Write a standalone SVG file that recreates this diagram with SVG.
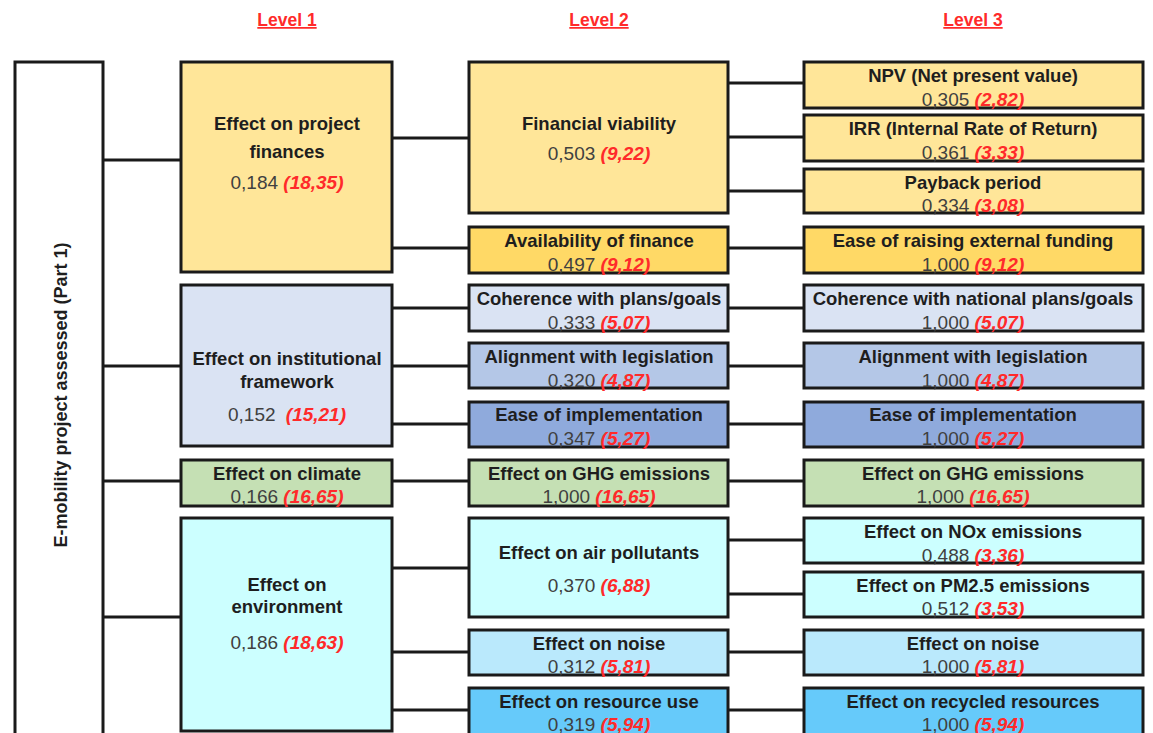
<svg xmlns="http://www.w3.org/2000/svg" width="1153" height="733" viewBox="0 0 1153 733">
<style>
.box{stroke:#1a1a1a;stroke-width:3}
.ln{stroke:#1a1a1a;stroke-width:3;fill:none}
text{font-family:"Liberation Sans",Arial,sans-serif;text-anchor:middle}
.t{font-weight:bold;font-size:18.5px;fill:#1e1e1e}
.v{font-size:19px;fill:#404040}
.r{font-weight:bold;font-style:italic;fill:#ff2a2a}
.h{font-weight:bold;font-size:17.5px;fill:#ff2a2a;text-decoration:underline}
.y1{fill:#FFE699}.y2{fill:#FFD966}
.b1{fill:#DAE3F3}.b2{fill:#B4C7E7}.b3{fill:#8FAADC}
.g1{fill:#C5E0B4}
.c1{fill:#CCFFFF}.c2{fill:#BAE9FC}.c3{fill:#66CAFA}
</style>
<rect width="1153" height="733" fill="#fff"/>
<g id="headers">
<text class="h" x="287" y="26">Level 1</text>
<text class="h" x="599" y="26">Level 2</text>
<text class="h" x="973" y="26">Level 3</text>
</g>
<g id="connectors">
<path class="ln" d="M103 160H181M103 366H181M103 481H181M103 617H181"/>
<path class="ln" d="M392 138H469M392 248H469M392 308H469M392 366H469M392 424H469M392 481H469M392 568H469M392 652H469M392 710H469"/>
<path class="ln" d="M728 83H804M728 137H804M728 191H804M728 248H804M728 308H804M728 366H804M728 424H804M728 481H804M728 540H804M728 594H804M728 652H804M728 710H804"/>
</g>
<g id="root">
<rect class="box" x="15" y="62" width="88" height="680" fill="#fff"/>
<text class="t" style="font-size:18px" transform="translate(67,395) rotate(-90)">E-mobility project assessed (Part 1)</text>
</g>
<g id="l1-finances">
<rect class="box y1" x="181" y="62" width="211" height="210"/>
<text class="t" x="287" y="130">Effect on project</text>
<text class="t" x="287" y="158">finances</text>
<text class="v" x="287" y="189">0,184 <tspan class="r">(18,35)</tspan></text>
</g>
<g id="l1-institutional">
<rect class="box b1" x="181" y="285" width="211" height="161"/>
<text class="t" x="287" y="365">Effect on institutional</text>
<text class="t" x="287" y="388">framework</text>
<text class="v" x="287" y="421">0,152 <tspan class="r" dx="5">(15,21)</tspan></text>
</g>
<g id="l1-climate">
<rect class="box g1" x="181" y="460" width="211" height="46"/>
<text class="t" x="287" y="480">Effect on climate</text>
<text class="v" x="287" y="503">0,166 <tspan class="r">(16,65)</tspan></text>
</g>
<g id="l1-environment">
<rect class="box c1" x="181" y="518" width="211" height="213"/>
<text class="t" x="287" y="591">Effect on</text>
<text class="t" x="287" y="613">environment</text>
<text class="v" x="287" y="649">0,186 <tspan class="r">(18,63)</tspan></text>
</g>
<g id="l2-financial-viability">
<rect class="box y1" x="469" y="62" width="259" height="151"/>
<text class="t" x="599" y="130">Financial viability</text>
<text class="v" x="599" y="160">0,503 <tspan class="r">(9,22)</tspan></text>
</g>
<g id="l2-availability">
<rect class="box y2" x="469" y="227" width="259" height="46"/>
<text class="t" x="599" y="247">Availability of finance</text>
<text class="v" x="599" y="271">0,497 <tspan class="r">(9,12)</tspan></text>
</g>
<g id="l2-coherence">
<rect class="box b1" x="469" y="285" width="259" height="46"/>
<text class="t" x="599" y="305">Coherence with plans/goals</text>
<text class="v" x="599" y="329">0,333 <tspan class="r">(5,07)</tspan></text>
</g>
<g id="l2-alignment">
<rect class="box b2" x="469" y="343" width="259" height="45"/>
<text class="t" x="599" y="363">Alignment with legislation</text>
<text class="v" x="599" y="387">0,320 <tspan class="r">(4,87)</tspan></text>
</g>
<g id="l2-ease-impl">
<rect class="box b3" x="469" y="402" width="259" height="45"/>
<text class="t" x="599" y="421">Ease of implementation</text>
<text class="v" x="599" y="445">0,347 <tspan class="r">(5,27)</tspan></text>
</g>
<g id="l2-ghg">
<rect class="box g1" x="469" y="460" width="259" height="46"/>
<text class="t" x="599" y="480">Effect on GHG emissions</text>
<text class="v" x="599" y="503">1,000 <tspan class="r">(16,65)</tspan></text>
</g>
<g id="l2-air">
<rect class="box c1" x="469" y="518" width="259" height="99"/>
<text class="t" x="599" y="559">Effect on air pollutants</text>
<text class="v" x="599" y="592">0,370 <tspan class="r">(6,88)</tspan></text>
</g>
<g id="l2-noise">
<rect class="box c2" x="469" y="630" width="259" height="45"/>
<text class="t" x="599" y="650">Effect on noise</text>
<text class="v" x="599" y="673">0,312 <tspan class="r">(5,81)</tspan></text>
</g>
<g id="l2-resource">
<rect class="box c3" x="469" y="688" width="259" height="60"/>
<text class="t" x="599" y="708">Effect on resource use</text>
<text class="v" x="599" y="731">0,319 <tspan class="r">(5,94)</tspan></text>
</g>
<g id="l3-npv">
<rect class="box y1" x="804" y="62" width="339" height="46"/>
<text class="t" x="973" y="82">NPV (Net present value)</text>
<text class="v" x="973" y="106">0,305 <tspan class="r">(2,82)</tspan></text>
</g>
<g id="l3-irr">
<rect class="box y1" x="804" y="115" width="339" height="46"/>
<text class="t" x="973" y="135">IRR (Internal Rate of Return)</text>
<text class="v" x="973" y="159">0,361 <tspan class="r">(3,33)</tspan></text>
</g>
<g id="l3-payback">
<rect class="box y1" x="804" y="169" width="339" height="44"/>
<text class="t" x="973" y="189">Payback period</text>
<text class="v" x="973" y="212">0,334 <tspan class="r">(3,08)</tspan></text>
</g>
<g id="l3-external">
<rect class="box y2" x="804" y="227" width="339" height="46"/>
<text class="t" x="973" y="247">Ease of raising external funding</text>
<text class="v" x="973" y="271">1,000 <tspan class="r">(9,12)</tspan></text>
</g>
<g id="l3-coherence">
<rect class="box b1" x="804" y="285" width="339" height="46"/>
<text class="t" x="973" y="305">Coherence with national plans/goals</text>
<text class="v" x="973" y="329">1,000 <tspan class="r">(5,07)</tspan></text>
</g>
<g id="l3-alignment">
<rect class="box b2" x="804" y="343" width="339" height="45"/>
<text class="t" x="973" y="363">Alignment with legislation</text>
<text class="v" x="973" y="387">1,000 <tspan class="r">(4,87)</tspan></text>
</g>
<g id="l3-ease-impl">
<rect class="box b3" x="804" y="402" width="339" height="45"/>
<text class="t" x="973" y="421">Ease of implementation</text>
<text class="v" x="973" y="445">1,000 <tspan class="r">(5,27)</tspan></text>
</g>
<g id="l3-ghg">
<rect class="box g1" x="804" y="460" width="339" height="46"/>
<text class="t" x="973" y="480">Effect on GHG emissions</text>
<text class="v" x="973" y="503">1,000 <tspan class="r">(16,65)</tspan></text>
</g>
<g id="l3-nox">
<rect class="box c1" x="804" y="518" width="339" height="45"/>
<text class="t" x="973" y="538">Effect on NOx emissions</text>
<text class="v" x="973" y="562">0,488 <tspan class="r">(3,36)</tspan></text>
</g>
<g id="l3-pm25">
<rect class="box c1" x="804" y="572" width="339" height="45"/>
<text class="t" x="973" y="592">Effect on PM2.5 emissions</text>
<text class="v" x="973" y="615">0,512 <tspan class="r">(3,53)</tspan></text>
</g>
<g id="l3-noise">
<rect class="box c2" x="804" y="630" width="339" height="45"/>
<text class="t" x="973" y="650">Effect on noise</text>
<text class="v" x="973" y="673">1,000 <tspan class="r">(5,81)</tspan></text>
</g>
<g id="l3-recycled">
<rect class="box c3" x="804" y="688" width="339" height="60"/>
<text class="t" x="973" y="708">Effect on recycled resources</text>
<text class="v" x="973" y="731">1,000 <tspan class="r">(5,94)</tspan></text>
</g>
</svg>
